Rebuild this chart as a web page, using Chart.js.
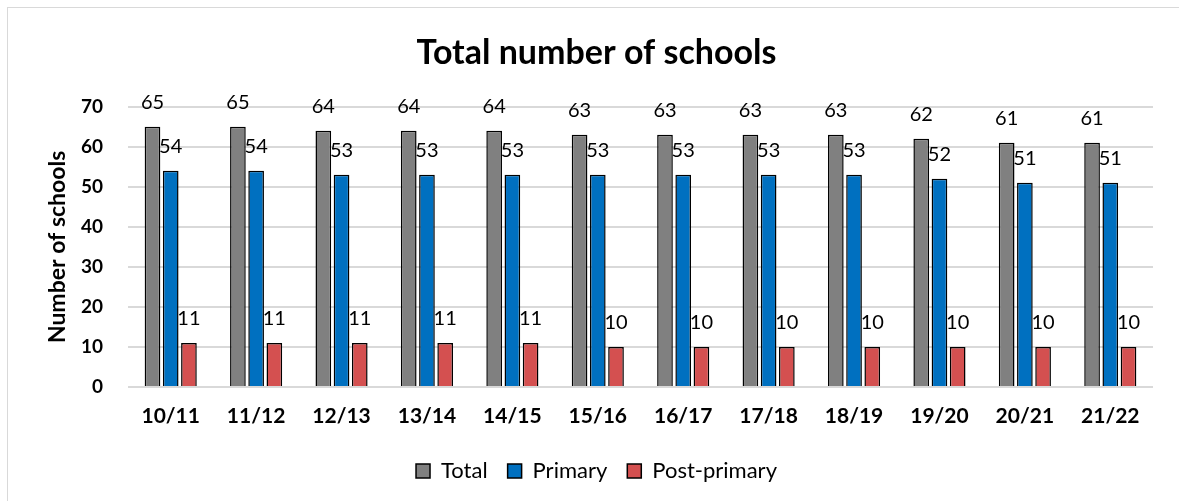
<!DOCTYPE html>
<html>
<head>
<meta charset="utf-8">
<script src="https://cdn.jsdelivr.net/npm/chart.js@4"></script>
<style>
  html, body { margin: 0; padding: 0; background: #fff; overflow: hidden; }
  #frame { position: absolute; left: 7px; top: 7px; width: 1200px; height: 520px; border: 1px solid #d9d9d9; }
  #wrap { position: absolute; left: 0; top: 0; width: 1188px; height: 501px; }
</style>
</head>
<body>
<div id="frame"></div>
<div id="wrap"><canvas id="barChart" width="1188" height="501"></canvas></div>
<script>
const years = ['10/11', '11/12', '12/13', '13/14', '14/15', '15/16', '16/17', '17/18', '18/19', '19/20', '20/21', '21/22'];
const total = [65, 65, 64, 64, 64, 63, 63, 63, 63, 62, 61, 61];
const primary = [54, 54, 53, 53, 53, 53, 53, 53, 53, 52, 51, 51];
const postPrimary = [11, 11, 11, 11, 11, 10, 10, 10, 10, 10, 10, 10];
const yTicks = [0, 10, 20, 30, 40, 50, 60, 70];

const fontName = 'Lato, "Open Sans", sans-serif';

// etiquetas encima de cada barra
const barLabels = {
  id: 'barLabels',
  afterDatasetsDraw(chart) {
    const c = chart.ctx;
    c.save();
    c.font = '20px ' + fontName;
    c.fillStyle = '#000';
    c.textAlign = 'center';
    c.textBaseline = 'alphabetic';
    chart.data.datasets.forEach((ds, i) => {
      chart.getDatasetMeta(i).data.forEach((bar, j) => {
        c.fillText(ds.data[j], bar.x, bar.y - 18);
      });
    });
    c.restore();
  }
};

const ctx = document.getElementById('barChart').getContext('2d');

new Chart(ctx, {
  type: 'bar',
  data: {
    labels: years,
    datasets: [{
      label: 'Total',
      data: total,
      backgroundColor: '#808080',
      borderColor: '#000',
      borderWidth: 1.5
    },
    {
      label: 'Primary',
      data: primary,
      backgroundColor: '#0070c0',
      borderColor: '#000',
      borderWidth: 1.5
    },
    {
      label: 'Post-primary',
      data: postPrimary,
      backgroundColor: '#d45050',
      borderColor: '#000',
      borderWidth: 1.5
    }]
  },
  options: {
    responsive: false,
    animation: false,
    categoryPercentage: 0.64,
    barPercentage: 0.86,
    layout: { padding: { left: 40, right: 35, top: 0, bottom: 9 } },
    plugins: {
      title: {
        display: true,
        text: 'Total number of schools',
        color: '#000',
        font: { family: fontName, size: 34, weight: 'bold' },
        padding: { top: 33, bottom: 33 }
      },
      legend: {
        position: 'bottom',
        labels: {
          color: '#000',
          font: { family: fontName, size: 22 },
          boxWidth: 14,
          boxHeight: 14,
          padding: 20,
          generateLabels(chart) {
            return chart.data.datasets.map((ds, i) => ({
              text: ds.label,
              fillStyle: ds.backgroundColor,
              strokeStyle: '#000',
              lineWidth: 1.5,
              datasetIndex: i
            }));
          }
        }
      },
      tooltip: { enabled: false }
    },
    scales: {
      x: {
        grid: { display: false },
        border: { display: false },
        afterFit(scale) { scale.height = 53; },
        ticks: {
          color: '#000',
          padding: 9,
          font: { family: fontName, size: 21, weight: 'bold' }
        }
      },
      y: {
        min: 0,
        max: 70,
        afterBuildTicks(axis) { axis.ticks = yTicks.map(v => ({ value: v })); },
        afterFit(scale) { scale.width = 88; },
        grid: { color: '#d9d9d9', lineWidth: 2, drawTicks: false },
        border: { display: false },
        title: {
          display: true,
          text: 'Number of schools',
          color: '#000',
          font: { family: fontName, size: 23, weight: 'bold' },
          padding: { top: 4, bottom: 0 }
        },
        ticks: {
          color: '#000',
          padding: 25,
          font: { family: fontName, size: 19, weight: 'bold' }
        }
      }
    }
  },
  plugins: [barLabels]
});
</script>
</body>
</html>
